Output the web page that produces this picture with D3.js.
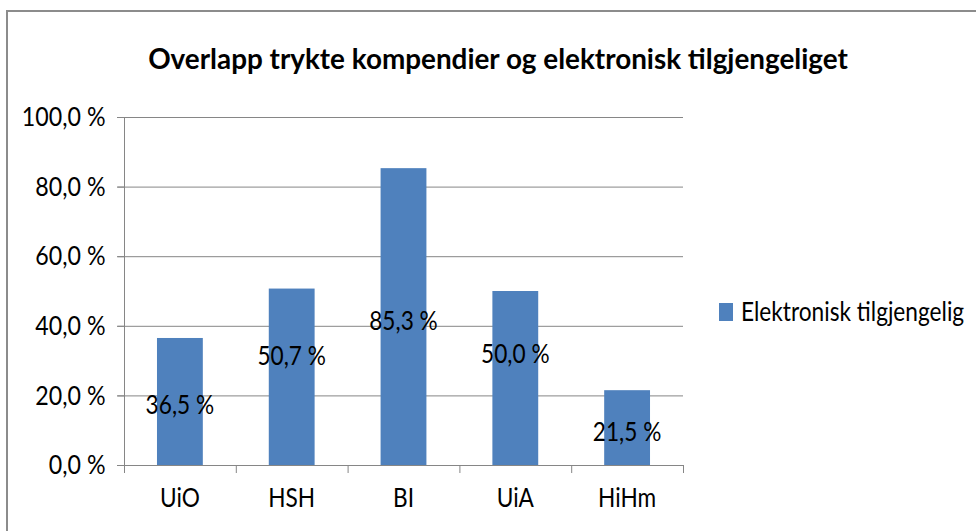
<!DOCTYPE html>
<html>
<head>
<meta charset="utf-8">
<script src="https://cdn.jsdelivr.net/npm/d3@7"></script>
<style>
  html, body { margin: 0; padding: 0; background: #fff; }
  svg { display: block; }
  text { font-family: Lato, "Open Sans", sans-serif; fill: #000; }
</style>
</head>
<body>
<svg width="976" height="531"></svg>
<script>
'use strict';

// Chart data
const categories = ['UiO', 'HSH', 'BI', 'UiA', 'HiHm'];
const values = [36.5, 50.7, 85.3, 50.0, 21.5];
const seriesName = 'Elektronisk tilgjengelig';
const yTicks = [0, 20, 40, 60, 80, 100];
const title = 'Overlapp trykte kompendier og elektronisk tilgjengeliget';

const barColor = '#4f81bd';
const gridColor = '#868686';
const fontSize = 27;

// Plot box
const plot = { left: 124, right: 683, top: 117, bottom: 465 };

// A couple of labels were dragged up by hand in the original
const labelNudge = { HSH: -25, UiA: -28 };

// The original font is narrow, so squeeze text horizontally around its anchor
const squeezeK = 0.84;
function squeeze(sel, k) {
  sel.each(function() {
    const t = d3.select(this);
    const x0 = +t.attr('x') || 0;
    t.attr('transform', `translate(${x0 * (1 - k)},0) scale(${k},1)`);
  });
}

const fmt = v => d3.format('.1f')(v).replace('.', ',') + ' %';

const svg = d3.select('svg');

// Outer frame (only top and left edges are in view)
svg.append('rect')
  .attr('x', 7).attr('y', 11)
  .attr('width', 1000).attr('height', 540)
  .attr('fill', 'none')
  .attr('stroke', '#8c8c8c')
  .attr('stroke-width', 2);

// Title, fitted to the width it has in the original
const titleText = svg.append('text')
  .attr('x', 498).attr('y', 69)
  .attr('text-anchor', 'middle')
  .attr('font-size', 29)
  .attr('font-weight', 'bold')
  .text(title);
squeeze(titleText, 700 / titleText.node().getComputedTextLength());

const x = d3.scaleBand()
  .domain(categories)
  .range([plot.left, plot.right])
  .paddingInner(0.59)
  .paddingOuter(0.295);

const y = d3.scaleLinear()
  .domain([0, 100])
  .range([plot.bottom, plot.top]);

// Gridlines
svg.append('g')
  .selectAll('line')
  .data(yTicks)
  .join('line')
  .attr('x1', plot.left - 7)
  .attr('x2', plot.right)
  .attr('y1', d => y(d) + 0.5)
  .attr('y2', d => y(d) + 0.5)
  .attr('stroke', gridColor)
  .attr('stroke-width', 1);

// Y axis
const yAxis = svg.append('g')
  .attr('transform', `translate(${plot.left + 0.5},0)`)
  .call(d3.axisLeft(y).tickValues(yTicks).tickFormat(fmt).tickSize(7).tickPadding(12));
yAxis.select('.domain').attr('stroke', gridColor).attr('d', `M0,${plot.top}V${plot.bottom}`);
yAxis.selectAll('.tick line').attr('stroke', gridColor);
yAxis.selectAll('.tick text')
  .attr('font-size', fontSize)
  .attr('fill', '#000')
  .style('font-family', 'Lato, "Open Sans", sans-serif')
  .call(squeeze, 0.86);

// Bars
svg.append('g')
  .selectAll('rect')
  .data(values)
  .join('rect')
  .attr('x', (d, i) => x(categories[i]))
  .attr('y', d => y(d))
  .attr('width', x.bandwidth())
  .attr('height', d => y(0) - y(d))
  .attr('fill', barColor);

// X axis
const step = x.step();
svg.append('line')
  .attr('x1', plot.left).attr('x2', plot.right)
  .attr('y1', plot.bottom + 0.5).attr('y2', plot.bottom + 0.5)
  .attr('stroke', gridColor);
svg.append('g')
  .selectAll('line')
  .data(d3.range(categories.length + 1))
  .join('line')
  .attr('x1', i => plot.left + i * step + 0.5)
  .attr('x2', i => plot.left + i * step + 0.5)
  .attr('y1', plot.bottom)
  .attr('y2', plot.bottom + 8)
  .attr('stroke', gridColor);
svg.append('g')
  .selectAll('text')
  .data(categories)
  .join('text')
  .attr('x', d => x(d) + x.bandwidth() / 2)
  .attr('y', 507)
  .attr('text-anchor', 'middle')
  .attr('font-size', fontSize)
  .text(d => d)
  .call(squeeze, squeezeK);

// Value labels
svg.append('g')
  .selectAll('text')
  .data(values)
  .join('text')
  .attr('x', (d, i) => x(categories[i]) + x.bandwidth() / 2)
  .attr('y', (d, i) => (y(d) + y(0)) / 2 + 13 + (labelNudge[categories[i]] || 0))
  .attr('text-anchor', 'middle')
  .attr('font-size', fontSize)
  .text(fmt)
  .call(squeeze, squeezeK);

// Legend
const legend = svg.append('g').attr('transform', 'translate(719,303)');
legend.append('rect')
  .attr('width', 14).attr('height', 18)
  .attr('fill', barColor);
legend.append('text')
  .attr('x', 22).attr('y', 18)
  .attr('font-size', fontSize)
  .text(seriesName)
  .call(squeeze, squeezeK);
</script>
</body>
</html>
